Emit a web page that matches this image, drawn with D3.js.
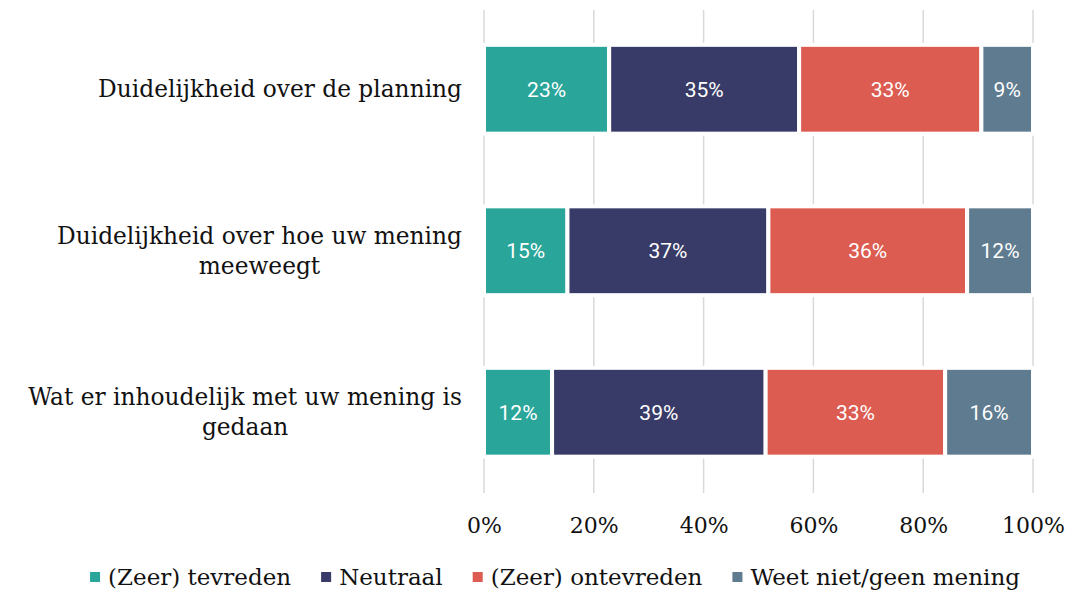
<!DOCTYPE html>
<html>
<head>
<meta charset="utf-8">
<script src="https://cdn.jsdelivr.net/npm/d3@7"></script>
<style>
  body { margin: 0; background: #fff; }
  svg { display: block; }
</style>
</head>
<body>
<div id="chart"></div>
<script>
// ---------------- DATA ----------------
var categories = [
  ["Duidelijkheid over de planning"],
  ["Duidelijkheid over hoe uw mening", "meeweegt"],
  ["Wat er inhoudelijk met uw mening is", "gedaan"]
];
var seriesNames = ["(Zeer) tevreden", "Neutraal", "(Zeer) ontevreden", "Weet niet/geen mening"];
var tevreden    = [22.8, 15.2, 12.4];
var neutraal    = [34.6, 36.6, 38.9];
var ontevreden  = [33.2, 36.2, 32.7];
var weetNiet    = [9.4, 12.0, 16.0];
var tickValues  = [0, 20, 40, 60, 80, 100];
var colors = ["#29a59a", "#383b67", "#dc5c51", "#5e7b8f"];

// ---------------- SET-UP ----------------
var width = 1082, height = 592;
var serif = "'DejaVu Serif', serif";
var sans = "Roboto, 'Noto Sans', sans-serif";

var svg = d3.select("#chart").append("svg")
    .attr("width", width)
    .attr("height", height);

var rows = categories.map(function(c, i) {
  return { label: c, values: [tevreden[i], neutraal[i], ontevreden[i], weetNiet[i]] };
});

var xScale = d3.scaleLinear().domain([0, 100]).range([484, 1033]);
var yScale = d3.scaleBand().domain(d3.range(rows.length)).range([8.5, 493])
    .paddingInner(0.45).paddingOuter(0.225);

// gridlines
svg.append("g").selectAll("line")
  .data(tickValues).enter().append("line")
    .attr("x1", function(d) { return xScale(d); })
    .attr("x2", function(d) { return xScale(d); })
    .attr("y1", 10).attr("y2", 493)
    .attr("stroke", "#d9d9d9")
    .attr("stroke-width", 1.5);

// x axis tick labels
var xAxis = d3.axisBottom(xScale).tickValues(tickValues)
    .tickFormat(function(d) { return d + "%"; })
    .tickSize(0).tickPadding(0);
var gx = svg.append("g").attr("transform", "translate(0,533)").call(xAxis);
gx.select(".domain").remove();
gx.selectAll("text")
    .attr("font-family", serif).attr("font-size", 22).attr("fill", "#111")
    .attr("dy", 0).attr("y", 0);

// ---------------- BARS ----------------
var stack = d3.stack().keys([0, 1, 2, 3]).value(function(d, k) { return d.values[k]; });
var layers = stack(rows);

var layerG = svg.append("g").selectAll("g")
  .data(layers).enter().append("g")
    .attr("fill", function(d, i) { return colors[i]; });

layerG.selectAll("rect")
  .data(function(d) { return d; }).enter().append("rect")
    .attr("x", function(d) { return xScale(d[0]); })
    .attr("y", function(d, i) { return yScale(i); })
    .attr("width", function(d) { return xScale(d[1]) - xScale(d[0]); })
    .attr("height", yScale.bandwidth())
    .attr("stroke", "#fff")
    .attr("stroke-width", 4);

layerG.selectAll("text")
  .data(function(d) { return d; }).enter().append("text")
    .attr("x", function(d) { return (xScale(d[0]) + xScale(d[1])) / 2; })
    .attr("y", function(d, i) { return yScale(i) + yScale.bandwidth() / 2; })
    .attr("dy", "0.35em")
    .attr("text-anchor", "middle")
    .attr("font-family", sans).attr("font-size", 21)
    .attr("fill", "#fff")
    .text(function(d) { return Math.round(d[1] - d[0]) + "%"; });

// ---------------- CATEGORY LABELS ----------------
var labelRight = 462, lineH = 30;
rows.forEach(function(r, i) {
  var cy = yScale(i) + yScale.bandwidth() / 2;
  var t = svg.append("text")
      .attr("font-family", serif).attr("font-size", 23.3)
      .attr("fill", "#111")
      .attr("text-anchor", "middle");
  var n = r.label.length;
  r.label.forEach(function(line, j) {
    t.append("tspan")
      .attr("y", cy + (j - (n - 1) / 2) * lineH)
      .attr("dy", "0.35em")
      .text(line);
  });
  var maxW = 0;
  t.selectAll("tspan").each(function() { maxW = Math.max(maxW, this.getComputedTextLength()); });
  t.selectAll("tspan").attr("x", labelRight - maxW / 2);
});

// ---------------- LEGEND ----------------
var legend = svg.append("g");
var lx = 0;
seriesNames.forEach(function(name, i) {
  var g = legend.append("g").attr("transform", "translate(" + lx + ",0)");
  g.append("rect").attr("x", 0).attr("y", 572).attr("width", 10).attr("height", 10)
    .attr("fill", colors[i]);
  var txt = g.append("text").attr("x", 18).attr("y", 577).attr("dy", "0.35em")
    .attr("font-family", serif).attr("font-size", 23).attr("fill", "#111")
    .text(name);
  lx += 18 + txt.node().getComputedTextLength() + 30;
});
var legW = lx - 30;
legend.attr("transform", "translate(" + (555 - legW / 2) + ",0)");
</script>
</body>
</html>
